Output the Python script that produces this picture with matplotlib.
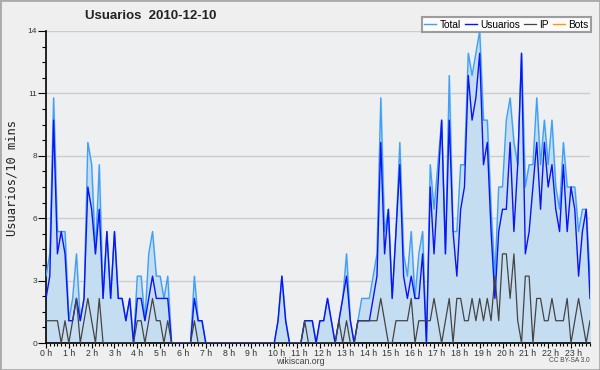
import matplotlib
matplotlib.use("Agg")
import matplotlib.pyplot as plt
from matplotlib.ticker import MultipleLocator
from matplotlib.transforms import ScaledTranslation
import numpy as np

plt.rcParams["font.family"] = ["Liberation Sans", "DejaVu Sans"]

title = "Usuarios  2010-12-10"
ylabel = "Usuarios/10 mins"
hour_labels = [f"{h} h" for h in range(24)]
ytick_values = [0, 2.8, 5.6, 8.4, 11.2, 14]
ytick_labels = ["0", "3", "6", "8", "11", "14"]

total = [3, 4, 11, 5, 5, 5, 1, 2, 4, 1, 2, 9, 8, 4, 8, 2, 5, 2, 5, 2, 2, 1, 2, 0,
         3, 3, 1, 4, 5, 3, 3, 2, 3, 0, 0, 0, 0, 0, 0, 3, 1, 1, 0, 0, 0, 0, 0, 0,
         0, 0, 0, 0, 0, 0, 0, 0, 0, 0, 0, 0, 0, 1, 3, 1, 0, 0, 0, 0, 1, 1, 1, 0,
         1, 1, 2, 1, 0, 1, 2, 4, 1, 0, 1, 2, 2, 2, 3, 4, 11, 5, 6, 2, 5, 9, 4, 3,
         5, 2, 4, 5, 0, 8, 6, 8, 10, 4, 12, 5, 5, 8, 8, 13, 12, 13, 14, 10, 10, 6, 3, 7,
         7, 10, 11, 9, 8, 13, 7, 8, 8, 11, 8, 10, 8, 10, 7, 6, 9, 7, 7, 7, 5, 6, 6, 3]
usuarios = [2, 3, 10, 4, 5, 4, 1, 1, 2, 1, 2, 7, 6, 4, 6, 2, 5, 2, 5, 2, 2, 1, 2, 0,
            2, 2, 1, 2, 3, 2, 2, 2, 2, 0, 0, 0, 0, 0, 0, 2, 1, 1, 0, 0, 0, 0, 0, 0,
            0, 0, 0, 0, 0, 0, 0, 0, 0, 0, 0, 0, 0, 1, 3, 1, 0, 0, 0, 0, 1, 1, 1, 0,
            1, 1, 2, 1, 0, 1, 2, 3, 1, 0, 1, 1, 1, 1, 2, 3, 9, 4, 6, 2, 5, 8, 3, 2,
            3, 2, 2, 4, 0, 7, 4, 7, 10, 4, 10, 5, 3, 6, 7, 12, 10, 11, 13, 8, 9, 5, 2, 5,
            6, 6, 9, 5, 8, 13, 4, 5, 7, 9, 6, 9, 7, 8, 6, 5, 8, 5, 7, 6, 3, 5, 6, 2]
ip = [1, 1, 1, 1, 0, 1, 0, 1, 2, 0, 1, 2, 1, 0, 2, 0, 0, 0, 0, 0, 0, 0, 0, 0,
      1, 1, 0, 1, 2, 1, 1, 0, 1, 0, 0, 0, 0, 0, 0, 1, 0, 0, 0, 0, 0, 0, 0, 0,
      0, 0, 0, 0, 0, 0, 0, 0, 0, 0, 0, 0, 0, 0, 0, 0, 0, 0, 0, 0, 1, 0, 0, 0,
      0, 0, 0, 0, 0, 1, 0, 1, 0, 0, 1, 1, 1, 1, 1, 1, 2, 1, 0, 0, 1, 1, 1, 1,
      2, 0, 1, 1, 1, 1, 2, 1, 0, 1, 2, 0, 2, 2, 1, 1, 2, 1, 2, 1, 2, 1, 3, 1,
      4, 4, 2, 4, 1, 0, 3, 3, 0, 2, 2, 1, 1, 2, 1, 1, 1, 2, 0, 1, 2, 1, 0, 1]
bots = [0] * 144

x = np.arange(len(total))

fig = plt.figure(figsize=(6.0, 3.7), dpi=100, facecolor="#efefef")
ax = fig.add_axes([46/600, 1-343/370, 544/600, 312/370])
ax.set_facecolor("#eeeff1")

ax.fill_between(x, total, 0, color="#c5ddf1", zorder=1)
ax.plot(x, total, color="#3fa0f5", lw=1.0, label="Total", zorder=3)
ax.plot(x, usuarios, color="#0a14f5", lw=1.0, label="Usuarios", zorder=4)
ax.plot(x, ip, color="#444444", lw=0.9, label="IP", zorder=5)
ax.plot(x, bots, color="#ff9900", lw=1.0, label="Bots", zorder=2)

ax.set_xlim(0, 143)
ax.set_ylim(0, 14)
ax.set_yticks(ytick_values)
ax.set_yticklabels(ytick_labels)
ax.yaxis.set_minor_locator(MultipleLocator(0.7))
ax.set_xticks(np.arange(0, 144, 6))
ax.set_xticklabels(hour_labels)
ax.xaxis.set_minor_locator(MultipleLocator(1))
ax.tick_params(axis="y", which="major", labelsize=6, length=6, width=0.8,
               color="black", labelcolor="#333333", pad=0.5)
ax.tick_params(axis="y", which="minor", length=3, width=0.8, color="black")
ax.tick_params(axis="x", which="major", labelsize=6.3, length=3.5, width=0.8,
               color="black", labelcolor="#333333", pad=0.5)
ax.tick_params(axis="x", which="minor", length=2.5, width=0.8, color="black")
offset = ScaledTranslation(-4.3/72, 0, fig.dpi_scale_trans)
for lab in ax.get_xticklabels():
    lab.set_horizontalalignment("left")
    lab.set_transform(lab.get_transform() + offset)

ax.grid(axis="y", which="major", color="#cccccc", lw=1.0)
ax.set_axisbelow(True)
for s in ["top", "right"]:
    ax.spines[s].set_visible(False)
for s in ["left", "bottom"]:
    ax.spines[s].set_color("black")
    ax.spines[s].set_linewidth(1.2)

fig.text(151/600, 1-16/370, title, ha="center", va="center", fontsize=9.5,
         fontweight="bold", color="#222222")
fig.text(12/600, 1-178/370, ylabel, rotation=90, ha="center", va="center",
         fontsize=8.7, family="DejaVu Sans Mono", color="#222222")
fig.text(300/600, 1-361/370, "wikiscan.org", ha="center", va="center",
         fontsize=6.3, color="#444444")
fig.text(590/600, 1-361/370, "CC BY-SA 3.0", ha="right", va="center",
         fontsize=4.7, color="#444444")

leg = fig.legend(loc="upper right", bbox_to_anchor=(591/600, 1-17/370), ncol=4,
                 fontsize=7.3, frameon=True, fancybox=False, shadow=False,
                 handlelength=1.2, handletextpad=0.35, columnspacing=0.35,
                 borderpad=0.25, borderaxespad=0)
leg.get_frame().set_edgecolor("#888888")
leg.get_frame().set_linewidth(1.5)
leg.get_frame().set_facecolor("white")
leg.set_zorder(10)

fig.patches.append(plt.Rectangle((0, 0), 1, 1, transform=fig.transFigure,
                                 fill=False, edgecolor="#aaaaaa", lw=2))

fig.savefig("out.png", dpi=100, facecolor=fig.get_facecolor())
